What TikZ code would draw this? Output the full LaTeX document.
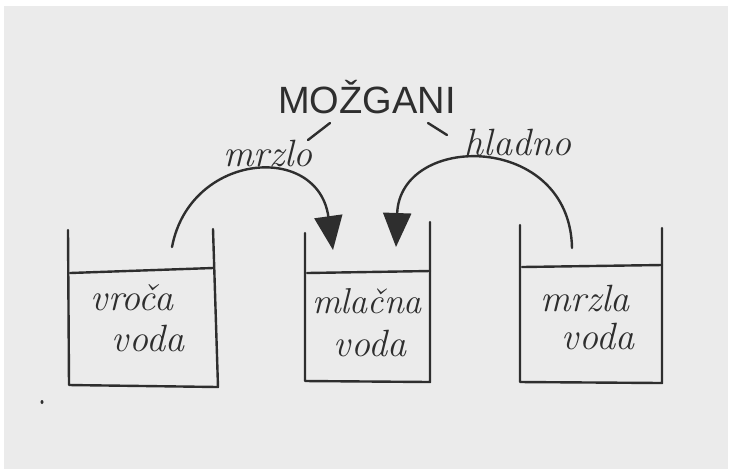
\documentclass[tikz,border=0pt]{standalone}
\usepackage{fontspec}
\newfontfamily\capsfont{Liberation Sans}
\usetikzlibrary{arrows.meta}
\definecolor{paper}{HTML}{EBEBEB}
\definecolor{pencil}{HTML}{2E2E2E}
\tikzset{
  ink/.style={draw=pencil, line width=1.2pt, line cap=round, line join=round},
  flow/.style={ink, -{Triangle[length=17pt,width=14pt]}},
  word/.style={text=pencil, inner sep=0pt, font=\fontsize{19}{19}\selectfont\itshape},
  title/.style={text=pencil, inner sep=0pt, font=\fontsize{19}{19}\selectfont\capsfont}
}
\begin{document}
\begin{tikzpicture}[x=0.5pt,y=-0.5pt]
  % sheet of paper on a white scan bed
  \fill[white] (0,0) rectangle (732,473);
  \fill[paper] (4,6) rectangle (728,469);
  \useasboundingbox (0,0) rectangle (732,473);

  % left beaker: hot water
  \draw[ink] (68,230) -- (69,385) -- (218,387) -- (213,229);
  \draw[ink] (70,273) -- (213,268);
  \node[word] (hotA) at (132,298) {vroča};
  \node[word] (hotB) at (148,338) {voda};

  % middle beaker: lukewarm water
  \draw[ink] (305,233) -- (305,381) -- (430,382) -- (430,222);
  \draw[ink] (307,273) -- (430,271);
  \node[word, font=\fontsize{18}{18}\selectfont\itshape] (warmA) at (367,301) {mlačna};
  \node[word] (warmB) at (370,343) {voda};

  % right beaker: cold water
  \draw[ink] (520,225) -- (520,382) -- (662,383) -- (662,228);
  \draw[ink] (522,267) -- (662,265);
  \node[word] (coldA) at (585,298) {mrzla};
  \node[word] (coldB) at (598,336) {voda};

  % brain and the two signals
  \node[title] (brain) at (367,97) {MOŽGANI};
  \node[word] (sigL) at (268,153) {mrzlo};
  \node[word] (sigR) at (518,142) {hladno};
  \coordinate (brainL) at (330,123);
  \coordinate (sigLtop) at (308,140);
  \coordinate (brainR) at (428,123);
  \coordinate (sigRtop) at (447,135);
  \draw[ink] (brainL) -- (sigLtop);
  \draw[ink] (brainR) -- (sigRtop);

  % pouring arcs into the middle beaker
  \coordinate (fromHot) at (172,247);
  \coordinate (intoL) at (333,250);
  \coordinate (fromCold) at (572,248);
  \coordinate (intoR) at (396,247);
  \draw[flow] (fromHot) .. controls (190,152) and (318,142) .. (intoL);
  \draw[flow] (fromCold) .. controls (570,132) and (400,132) .. (intoR);

  % stray pencil mark
  \fill[pencil] (42,402) ellipse (1.5 and 2);
\end{tikzpicture}
\end{document}
